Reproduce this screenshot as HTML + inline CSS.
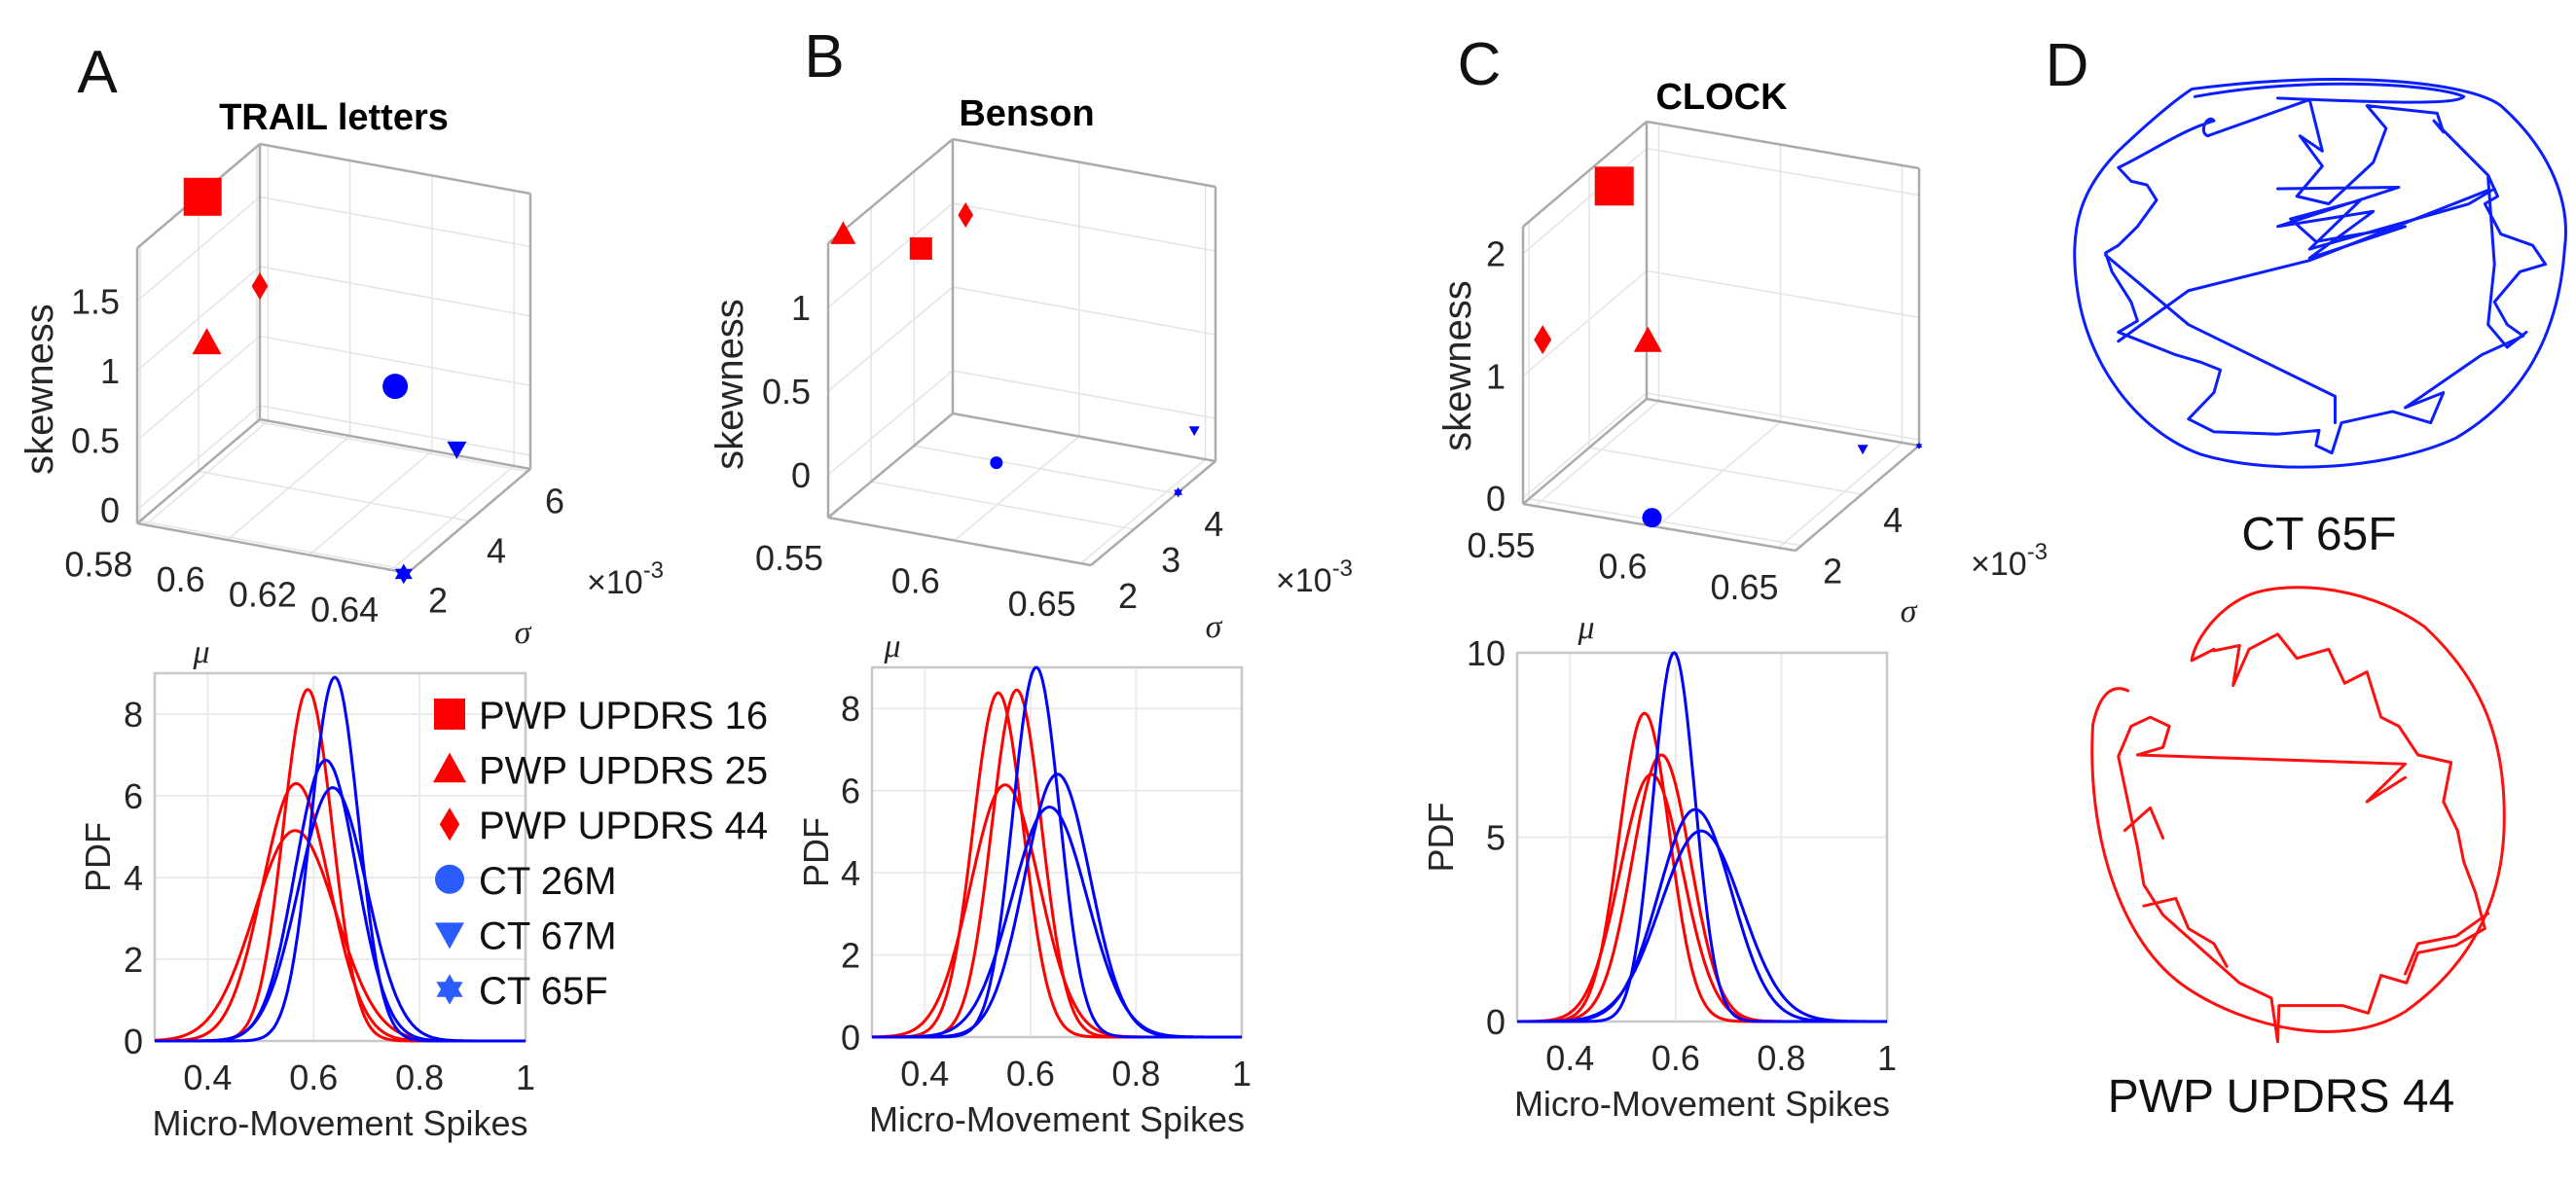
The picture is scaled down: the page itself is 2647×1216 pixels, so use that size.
<!DOCTYPE html>
<html><head><meta charset="utf-8"><style>
html,body{margin:0;padding:0;background:#fff;}
svg{display:block;font-family:"Liberation Sans",Arial,sans-serif;}
</style></head><body>
<svg id="fig" width="2647" height="1216" viewBox="0 0 2647 1216" xmlns="http://www.w3.org/2000/svg">
<rect width="2647" height="1216" fill="#fff"/>
<text x="100" y="95" font-size="62" text-anchor="middle" fill="#111">A</text>
<text x="847" y="79" font-size="62" text-anchor="middle" fill="#111">B</text>
<text x="1520" y="87" font-size="62" text-anchor="middle" fill="#111">C</text>
<text x="2124" y="88" font-size="62" text-anchor="middle" fill="#111">D</text>
<text x="343" y="133" font-size="38" font-weight="bold" text-anchor="middle">TRAIL letters</text>
<text x="1055" y="129" font-size="38" font-weight="bold" text-anchor="middle">Benson</text>
<text x="1769" y="112" font-size="38" font-weight="bold" text-anchor="middle">CLOCK</text>
<g id="drawing-d">
<g transform="translate(1620,0) scale(0.655,0.776)" fill="none" stroke-linejoin="round" stroke-linecap="round">
<g stroke="#0a1eff" stroke-width="3" style="vector-effect:non-scaling-stroke">
<path style="vector-effect:non-scaling-stroke" d="M965,118 C1200,92 1400,108 1450,140 C1530,200 1560,270 1550,330 C1540,450 1480,530 1380,580 C1280,620 1100,632 980,602 C880,572 800,482 785,380 C772,300 792,250 850,200 C900,160 940,132 965,118 Z"/>
<path style="vector-effect:non-scaling-stroke" d="M970,128 C1150,100 1350,112 1392,128 C1380,140 1250,135 1100,130"/>
<path style="vector-effect:non-scaling-stroke" d="M850,222 C900,202 950,172 1000,160 C990,150 975,175 990,180 L1150,132 L1170,200 L1135,180 L1170,220 L1130,260 L1180,270 L1250,215 L1270,170 L1240,140 L1350,150 L1360,175 L1345,160 L1430,232 L1445,260 L1425,270 L1450,310 L1500,325 L1520,350 L1480,360 L1440,400 L1460,430 L1485,445 L1420,470 L1300,540 L1360,520 L1340,560 L1280,545 L1200,560 L1185,600 L1160,590 L1165,570 L1100,575 L1000,572 L960,555 L1000,520 L1010,490 L980,480 L940,470 L880,450 L850,440 L880,425 L870,400 L840,360 L830,335 L850,325 L880,300 L910,265 L895,245 L870,240 Z"/>
<path style="vector-effect:non-scaling-stroke" d="M830,338 L960,430 L1190,525 L1190,560"/>
<path style="vector-effect:non-scaling-stroke" d="M850,452 L960,385 L1150,345 L1430,252"/>
<path style="vector-effect:non-scaling-stroke" d="M1100,250 L1290,248 L1100,300 L1250,280 L1150,342 L1300,300 L1160,320 L1120,290 L1230,265 L1150,330 L1400,270 L1440,250"/>
<path style="vector-effect:non-scaling-stroke" d="M1430,235 L1440,350 L1430,430 L1460,460 L1490,440"/>
</g>
<g stroke="#ff1010" stroke-width="3">
<path style="vector-effect:non-scaling-stroke" d="M865,915 C840,905 820,920 810,960 C800,1100 850,1250 960,1310 C1050,1360 1200,1392 1300,1340 C1400,1280 1450,1200 1455,1100 C1460,980 1420,900 1330,830 C1230,770 1100,770 1050,790 C1000,810 970,850 965,875 L1000,860"/>
<path style="vector-effect:non-scaling-stroke" d="M1000,862 L1040,855 L1030,908 L1055,860 L1100,840 L1130,872 L1180,860 L1205,905 L1240,890 L1262,950 L1290,962 L1320,1000 L1372,1010 L1360,1062 L1382,1100 L1392,1142 L1410,1182 L1425,1230 L1380,1252 L1320,1262 L1302,1302 L1262,1292 L1242,1342 L1202,1332 L1102,1332 L1100,1380 L1090,1322 L1040,1302 L1000,1272 L960,1242 L920,1212 L890,1172 L880,1122 L870,1082 L860,1042 L850,1002 L870,962 L900,950 L930,962 L920,990 L880,1000"/>
<path style="vector-effect:non-scaling-stroke" d="M880,1000 L1300,1012 L1240,1062 L1300,1030"/>
<path style="vector-effect:non-scaling-stroke" d="M860,1100 L900,1070 L920,1110 M890,1200 L940,1190 L960,1230 L1000,1250 L1020,1280 M1300,1290 L1320,1250 L1380,1240 L1430,1210"/>
</g>
</g>
<text x="2383" y="565" font-size="48" text-anchor="middle" fill="#111">CT 65F</text>
<text x="2344" y="1143" font-size="48" text-anchor="middle" fill="#111">PWP UPDRS 44</text>
</g>
</svg>
<script>
// ---------- Data ----------
const groupNames = ['PWP UPDRS 16','PWP UPDRS 25','PWP UPDRS 44','CT 26M','CT 67M','CT 65F'];
const groupShapes = ['square','triangle','diamond','circle','down','star'];
const groupIsPwp = [true,true,true,false,false,false];

// 3D scatter data: mean, sigma (x1e-3), skewness
const trailMu = [0.579,0.586,0.581,0.620,0.641,0.643];
const trailSigma = [4.0,3.16,5.68,4.84,4.0,1.9];
const trailSkew = [1.88,1.02,0.95,0.59,0.40,-0.11];
const bensonMu = [0.567,0.551,0.560,0.587,0.648,0.654];
const bensonSigma = [3.16,2.29,4.61,3.74,4.76,4.03];
const bensonSkew = [1.15,1.38,1.02,-0.20,-0.06,-0.256];
const clockMu = [0.552,0.576,0.548,0.598,0.644,0.657];
const clockSigma = [4.26,3.44,2.21,1.8,5.08,5.9];
const clockSkew = [2.06,1.05,1.22,0.02,0.05,-0.05];

const trailMuTicks = [0.58,0.6,0.62,0.64];
const trailSigmaTicks = [2,4,6];
const trailSkewTicks = [0,0.5,1,1.5];
const bensonMuTicks = [0.55,0.6,0.65];
const bensonSigmaTicks = [2,3,4];
const bensonSkewTicks = [0,0.5,1];
const clockMuTicks = [0.55,0.6,0.65];
const clockSigmaTicks = [2,4];
const clockSkewTicks = [0,1,2];

// PDF curves: means and peak heights
const trailRedMeans = [0.589,0.567,0.565];
const trailRedPeaks = [8.6,6.3,5.15];
const trailBlueMeans = [0.640,0.623,0.636];
const trailBluePeaks = [8.9,6.87,6.2];
const bensonRedMeans = [0.539,0.574,0.552];
const bensonRedPeaks = [8.38,8.45,6.14];
const bensonBlueMeans = [0.611,0.651,0.636];
const bensonBluePeaks = [9.0,6.4,5.6];
const clockRedMeans = [0.541,0.573,0.554];
const clockRedPeaks = [8.36,7.23,6.7];
const clockBlueMeans = [0.597,0.637,0.648];
const clockBluePeaks = [10.0,5.75,5.17];

const pdfXTicks = [0.4,0.6,0.8,1];
const pdfYTicksAB = [0,2,4,6,8];
const pdfYTicksC = [0,5,10];

// ---------- Helpers ----------
const NS = 'http://www.w3.org/2000/svg';
const svg = document.getElementById('fig');
function mk(tag, attrs, parent){
  const e = document.createElementNS(NS, tag);
  for (const k in attrs) e.setAttribute(k, attrs[k]);
  (parent||svg).appendChild(e);
  return e;
}
function fmt(v){ return String(Math.round(v*1000)/1000); }

function markerEl(shape, cx, cy, s, color, parent){
  let el;
  if (shape==='square') el = mk('rect',{x:cx-s/2,y:cy-s/2,width:s,height:s,fill:color},parent);
  else if (shape==='circle') el = mk('ellipse',{cx:cx,cy:cy,rx:s/2,ry:s/2,fill:color},parent);
  else {
    let pts;
    if (shape==='triangle') pts=[[cx,cy-s*0.5],[cx+s/2,cy+s*0.4],[cx-s/2,cy+s*0.4]];
    else if (shape==='down') pts=[[cx-s/2,cy-s*0.4],[cx+s/2,cy-s*0.4],[cx,cy+s*0.5]];
    else if (shape==='diamond') pts=[[cx,cy-s/2],[cx+s*0.3,cy],[cx,cy+s/2],[cx-s*0.3,cy]];
    else { pts=[]; for(let i=0;i<12;i++){const r=i%2?s*0.3:s*0.52;const a=-Math.PI/2+i*Math.PI/6;pts.push([cx+r*Math.cos(a),cy+r*Math.sin(a)]);} }
    el = mk('polygon',{points:pts.map(p=>p[0].toFixed(1)+','+p[1].toFixed(1)).join(' '),fill:color},parent);
  }
  return el;
}

// ---------- 3D panels ----------
function draw3D(cfg, mus, sigmas, skews, muTicks, sgTicks, zTicks){
  const g = mk('g',{});
  
  
  const P = (m,s,z)=>{
    const a=(m-cfg.m0)/(cfg.m1-cfg.m0), b=(s-cfg.s0)/(cfg.s1-cfg.s0), c=(z-cfg.z0)/(cfg.z1-cfg.z0);
    return [cfg.ox + a*cfg.ex[0] + b*cfg.ey[0], cfg.oy + a*cfg.ex[1] + b*cfg.ey[1] - c*cfg.h];
  };
  const line=(p,q,col,w,name)=>{
    const l = mk('line',{x1:p[0],y1:p[1],x2:q[0],y2:q[1],stroke:col,'stroke-width':w},g);
    
    
  };
  const gc='#e4e4e4';
  zTicks.forEach(z=>{
    line(P(cfg.m0,cfg.s0,z),P(cfg.m0,cfg.s1,z),gc,1.5,'grid-line-z');
    line(P(cfg.m0,cfg.s1,z),P(cfg.m1,cfg.s1,z),gc,1.5,'grid-line-z');
  });
  sgTicks.forEach(s=>{
    line(P(cfg.m0,s,cfg.z0),P(cfg.m0,s,cfg.z1),gc,1.5,'grid-line-sigma');
    line(P(cfg.m0,s,cfg.z0),P(cfg.m1,s,cfg.z0),gc,1.5,'grid-line-sigma');
  });
  muTicks.forEach(m=>{
    line(P(m,cfg.s1,cfg.z0),P(m,cfg.s1,cfg.z1),gc,1.5,'grid-line-mu');
    line(P(m,cfg.s0,cfg.z0),P(m,cfg.s1,cfg.z0),gc,1.5,'grid-line-mu');
  });
  const bc='#ababab', bw=2.5;
  const {m0,m1,s0,s1,z0,z1}=cfg;
  line(P(m0,s0,z0),P(m1,s0,z0),bc,bw,'axis-edge');
  line(P(m1,s0,z0),P(m1,s1,z0),bc,bw,'axis-edge');
  line(P(m0,s1,z0),P(m1,s1,z0),bc,bw,'axis-edge');
  line(P(m0,s0,z0),P(m0,s1,z0),bc,bw,'axis-edge');
  line(P(m0,s0,z0),P(m0,s0,z1),bc,bw,'axis-edge');
  line(P(m0,s1,z0),P(m0,s1,z1),bc,bw,'axis-edge');
  line(P(m1,s1,z0),P(m1,s1,z1),bc,bw,'axis-edge');
  line(P(m0,s0,z1),P(m0,s1,z1),bc,bw,'axis-edge');
  line(P(m0,s1,z1),P(m1,s1,z1),bc,bw,'axis-edge');
  // tick labels
  muTicks.forEach(m=>{
    const p=P(m,s0,z0);
    const t=mk('text',{x:p[0]+cfg.muOff[0],y:p[1]+cfg.muOff[1]+13,'font-size':36,'text-anchor':'middle',fill:'#262626'},g);
    
    
    t.textContent=fmt(m);
  });
  sgTicks.forEach(s=>{
    const p=P(m1,s,z0);
    const t=mk('text',{x:p[0]+cfg.sgOff[0],y:p[1]+cfg.sgOff[1]+13,'font-size':36,'text-anchor':'middle',fill:'#262626'},g);
    
    
    t.textContent=fmt(s);
  });
  zTicks.forEach(z=>{
    const p=P(m0,s0,z);
    const t=mk('text',{x:p[0]-18,y:p[1]+13,'font-size':36,'text-anchor':'end',fill:'#262626'},g);
    
    
    t.textContent=fmt(z);
  });
  // axis labels
  const yl=mk('text',{x:0,y:0,'font-size':40,'text-anchor':'middle',fill:'#262626',transform:'translate('+(cfg.skewLbl[0]+14)+','+cfg.skewLbl[1]+') rotate(-90)'},g);
  
  
  yl.textContent='skewness';
  const ml=mk('text',{x:cfg.muLbl[0],y:cfg.muLbl[1]+12,'font-size':34,'font-style':'italic','text-anchor':'middle',fill:'#262626','font-family':'"Liberation Serif",serif'},g);
  
  
  ml.textContent='μ';
  const sl=mk('text',{x:cfg.sgLbl[0],y:cfg.sgLbl[1]+10,'font-size':34,'font-style':'italic','text-anchor':'middle',fill:'#262626','font-family':'"Liberation Serif",serif'},g);
  
  
  sl.textContent='σ';
  const ex=mk('text',{x:cfg.expLbl[0]-40,y:cfg.expLbl[1]+13,'font-size':34,fill:'#262626'},g);
  
  
  ex.textContent='×10';
  const ts=mk('tspan',{dy:-16,'font-size':24},ex);
  ts.textContent='-3';
  // markers
  mus.forEach((m,i)=>{
    const p=P(m,sigmas[i],skews[i]);
    const el=markerEl(groupShapes[i],p[0],p[1],cfg.sizes[i],groupIsPwp[i]?'#ff0000':'#0000ff',g);
    
    
  });
}

draw3D({name:'trail-3d-scatter',ox:141,oy:538,ex:[278,51],ey:[126,-107],h:283,m0:0.578,m1:0.644,s0:1.9,s1:6.1,z0:-0.098,z1:1.88,
  muOff:[-48,40],sgOff:[28,30],skewLbl:[40,400],muLbl:[207,669],sgLbl:[537,651],expLbl:[643,597],sizes:[39,30,28,26,20,20]},
  trailMu,trailSigma,trailSkew,trailMuTicks,trailSigmaTicks,trailSkewTicks);
draw3D({name:'benson-3d-scatter',ox:851,oy:532,ex:[270,49],ey:[128,-107],h:282,m0:0.55,m1:0.654,s0:2,s1:4.9,z0:-0.256,z1:1.384,
  muOff:[-40,41],sgOff:[38,31],skewLbl:[749,395],muLbl:[917,663],sgLbl:[1247,645],expLbl:[1351,595],sizes:[23,26,26,13,11,10]},
  bensonMu,bensonSigma,bensonSkew,bensonMuTicks,bensonSigmaTicks,bensonSkewTicks);
draw3D({name:'clock-3d-scatter',ox:1565,oy:518,ex:[280,48],ey:[127,-108],h:285,m0:0.545,m1:0.657,s0:1.8,s1:5.9,z0:-0.048,z1:2.22,
  muOff:[-35,40],sgOff:[32,26],skewLbl:[1497,376],muLbl:[1630,644],sgLbl:[1961,629],expLbl:[2065,578],sizes:[40,29,30,20,11,7]},
  clockMu,clockSigma,clockSkew,clockMuTicks,clockSigmaTicks,clockSkewTicks);

// ---------- PDF panels ----------
function drawPDF(cfg, redM, redP, blueM, blueP, yTicks){
  const g = mk('g',{});
  
  
  const X=v=>cfg.l+(v-0.3)/0.7*(cfg.r-cfg.l);
  const Y=v=>cfg.b-v/cfg.ymax*(cfg.b-cfg.t);
  pdfXTicks.forEach(v=>{
    const l=mk('line',{x1:X(v),y1:cfg.t,x2:X(v),y2:cfg.b,stroke:'#ebebeb','stroke-width':2},g);
    
    
    const t=mk('text',{x:X(v),y:cfg.b+50,'font-size':36,'text-anchor':'middle',fill:'#262626'},g);
    
    
    t.textContent=fmt(v);
  });
  yTicks.forEach(v=>{
    const l=mk('line',{x1:cfg.l,y1:Y(v),x2:cfg.r,y2:Y(v),stroke:'#ebebeb','stroke-width':2},g);
    
    
    const t=mk('text',{x:cfg.l-12,y:Y(v)+13,'font-size':36,'text-anchor':'end',fill:'#262626'},g);
    
    
    t.textContent=fmt(v);
  });
  const box=mk('rect',{x:cfg.l,y:cfg.t,width:cfg.r-cfg.l,height:cfg.b-cfg.t,fill:'none',stroke:'#c8c8c8','stroke-width':2.5},g);
  
  
  const curve=(mu,pk,col,name)=>{
    const sd=1/(pk*Math.sqrt(2*Math.PI));
    let d='';
    for(let i=0;i<=280;i++){const x=0.3+0.7*i/280;const y=pk*Math.exp(-0.5*((x-mu)/sd)**2);d+=(i?'L':'M')+X(x).toFixed(1)+','+Y(y).toFixed(1);}
    const p=mk('path',{d:d,fill:'none',stroke:col,'stroke-width':3},g);
    
    
  };
  redM.forEach((m,i)=>curve(m,redP[i],'#ff0000','pdf-curve-pwp'));
  blueM.forEach((m,i)=>curve(m,blueP[i],'#0000ff','pdf-curve-ct'));
  const xl=mk('text',{x:(cfg.l+cfg.r)/2,y:cfg.b+97,'font-size':36,'text-anchor':'middle',fill:'#262626'},g);
  
  
  xl.textContent='Micro-Movement Spikes';
  const yl=mk('text',{x:0,y:0,'font-size':36,'text-anchor':'middle',fill:'#262626',transform:'translate('+(cfg.ylx+13)+','+((cfg.t+cfg.b)/2)+') rotate(-90)'},g);
  
  
  yl.textContent='PDF';
}
drawPDF({name:'trail-pdf-chart',l:159,r:540,t:692,b:1070,ymax:9,ylx:100},trailRedMeans,trailRedPeaks,trailBlueMeans,trailBluePeaks,pdfYTicksAB);
drawPDF({name:'benson-pdf-chart',l:896,r:1276,t:686,b:1066,ymax:9,ylx:838},bensonRedMeans,bensonRedPeaks,bensonBlueMeans,bensonBluePeaks,pdfYTicksAB);
drawPDF({name:'clock-pdf-chart',l:1559,r:1939,t:671,b:1050,ymax:10,ylx:1480},clockRedMeans,clockRedPeaks,clockBlueMeans,clockBluePeaks,pdfYTicksC);

// ---------- Legend ----------
const legend = mk('g',{});


const legendSizes=[32,34,34,30,30,30];
groupNames.forEach((n,i)=>{
  const cy=734+i*56.6;
  const m=markerEl(groupShapes[i],462,cy,legendSizes[i],groupIsPwp[i]?'#ff0000':'#2b5cff',legend);
  
  
  const t=mk('text',{x:492,y:cy+15,'font-size':40,fill:'#111'},legend);
  
  
  t.textContent=n;
});
</script>
</body></html>
